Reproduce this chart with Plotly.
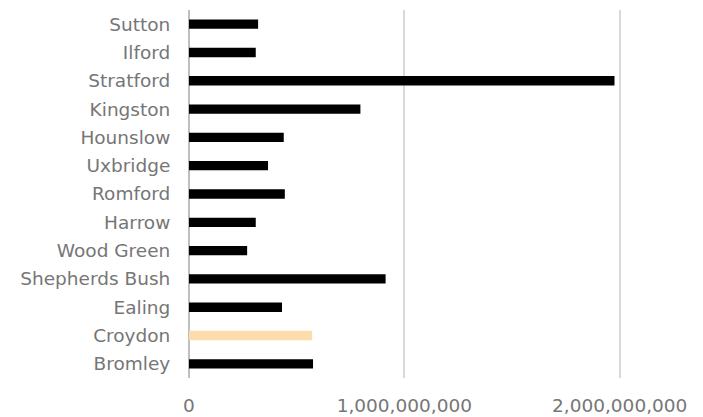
import plotly.graph_objects as go

categories = ["Bromley", "Croydon", "Ealing", "Shepherds Bush", "Wood Green", "Harrow",
              "Romford", "Uxbridge", "Hounslow", "Kingston", "Stratford", "Ilford", "Sutton"]
values = [576e6, 572e6, 432e6, 913e6, 270e6, 310e6,
          445e6, 367e6, 440e6, 796e6, 1976e6, 310e6, 321e6]
highlight = "Croydon"
tick_vals = [0, 1e9, 2e9]
tick_text = ["0", "1,000,000,000", "2,000,000,000"]

colors = ["#FCDCAA" if c == highlight else "#000000" for c in categories]

fig = go.Figure(go.Bar(
    y=categories, x=values, orientation="h",
    marker=dict(color=colors, line=dict(width=0)),
))

font_family = "'DejaVu Sans', sans-serif"
fig.update_layout(
    width=703, height=417,
    margin=dict(l=188.5, r=0, t=9.5, b=38.5),
    paper_bgcolor="white", plot_bgcolor="white",
    bargap=0.67,
    showlegend=False,
    font=dict(family=font_family, size=17, color="#767676"),
)
fig.update_xaxes(
    range=[0, 2.387e9],
    tickvals=tick_vals, ticktext=tick_text,
    showgrid=True, gridcolor="#D9D9D9", gridwidth=1.5,
    zeroline=True, zerolinecolor="#BFBFBF", zerolinewidth=1.5,
    showline=False, automargin=False,
    ticks="outside", ticklen=11, tickcolor="rgba(0,0,0,0)",
    tickfont=dict(size=18.5, color="#767676"),
)
fig.update_yaxes(
    showgrid=False, showline=False, automargin=False,
    ticks="outside", ticklen=14, tickcolor="rgba(0,0,0,0)",
    tickfont=dict(size=18.5, color="#767676"),
)

fig.write_html("out.html", config={"displayModeBar": False},
               post_script="document.body.style.margin='0';document.body.style.padding='0';")
